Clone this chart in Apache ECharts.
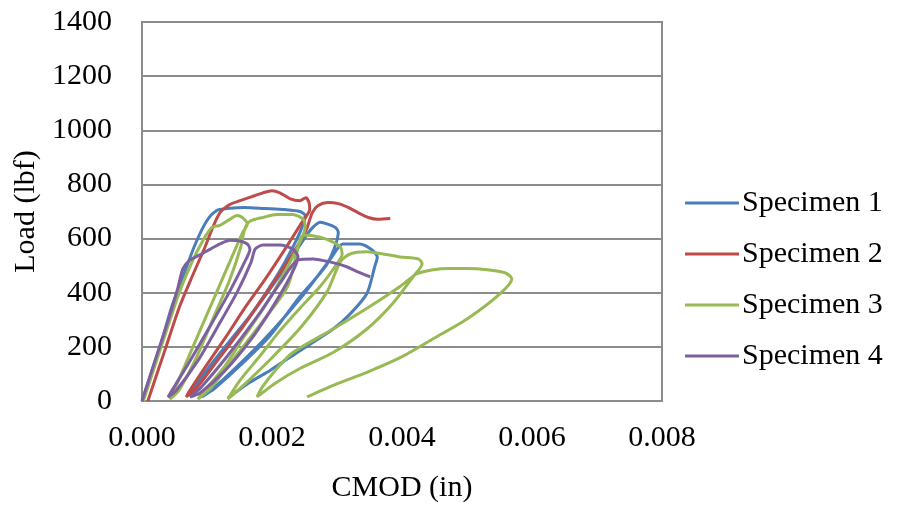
<!DOCTYPE html>
<html>
<head>
<meta charset="utf-8">
<script src="https://cdn.jsdelivr.net/npm/echarts@6/dist/echarts.min.js"></script>
<style>
  html, body { margin: 0; padding: 0; background: #ffffff; }
  #chart { width: 899px; height: 508px; }
</style>
</head>
<body>
<div id="chart"></div>
<script>
// Load vs. crack mouth opening displacement, cyclic loading of four specimens
const seriesNames = ['Specimen 1', 'Specimen 2', 'Specimen 3', 'Specimen 4'];
const xTicks = ['0.000', '0.002', '0.004', '0.006', '0.008'];
const yTicks = ['0', '200', '400', '600', '800', '1000', '1200', '1400'];

// Specimen 1
const cmod1 = [0, 0.00028, 0.00046, 0.00063, 0.00082, 0.00100, 0.00115, 0.00131, 0.00158, 0.00189, 0.00220, 0.00243, 0.00251,
  0.00243, 0.00220, 0.00197, 0.00166, 0.00135, 0.00105, 0.00082, 0.00074,
  0.00092, 0.00125, 0.00172, 0.00216, 0.00246, 0.00260, 0.00274, 0.00297, 0.00302,
  0.00285, 0.00243, 0.00197, 0.00151, 0.00112, 0.00092,
  0.00124, 0.00186, 0.00246, 0.00290, 0.00309, 0.00335, 0.00354, 0.00362,
  0.00358, 0.00346, 0.00320, 0.00294, 0.00243, 0.00197, 0.00166, 0.00132];
const load1 = [0, 204, 350, 459, 580, 667, 704, 711, 715, 711, 707, 700, 685,
  623, 514, 423, 314, 222, 131, 58, 22,
  77, 186, 332, 478, 587, 634, 660, 642, 623,
  507, 386, 241, 131, 47, 15,
  77, 222, 386, 525, 580, 580, 558, 532,
  496, 397, 321, 266, 186, 113, 69, 11];

// Specimen 2
const cmod2 = [0.00009, 0.00035, 0.00058, 0.00077, 0.00097, 0.00109, 0.00120, 0.00135, 0.00151, 0.00169, 0.00186, 0.00200, 0.00212, 0.00228, 0.00243, 0.00252, 0.00257, 0.00258,
  0.00246, 0.00220, 0.00189, 0.00158, 0.00128, 0.00097, 0.00074, 0.00068,
  0.00085, 0.00116, 0.00156, 0.00193, 0.00231, 0.00253, 0.00262, 0.00271, 0.00286, 0.00302, 0.00317, 0.00332, 0.00348, 0.00363, 0.00382];
const load2 = [0, 186, 350, 459, 569, 642, 696, 726, 740, 755, 769, 777, 769, 747, 740, 751, 733, 707,
  660, 561, 448, 343, 233, 124, 40, 15,
  51, 149, 277, 405, 540, 634, 696, 722, 733, 729, 715, 696, 678, 671, 674];

// Specimen 3
const cmod3 = [0.00002, 0.00020, 0.00040, 0.00058, 0.00077, 0.00094, 0.00108, 0.00120, 0.00135, 0.00146, 0.00154, 0.00162,
  0.00155, 0.00135, 0.00112, 0.00089, 0.00066, 0.00046, 0.00043,
  0.00057, 0.00085, 0.00111, 0.00135, 0.00152, 0.00158, 0.00166, 0.00186, 0.00208, 0.00232, 0.00248, 0.00251,
  0.00243, 0.00220, 0.00189, 0.00158, 0.00128, 0.00097, 0.00086,
  0.00107, 0.00147, 0.00186, 0.00224, 0.00243, 0.00248, 0.00274, 0.00294, 0.00305, 0.00308,
  0.00300, 0.00274, 0.00243, 0.00212, 0.00182, 0.00151, 0.00132,
  0.00153, 0.00200, 0.00246, 0.00285, 0.00305, 0.00320, 0.00346, 0.00371, 0.00397, 0.00425, 0.00431,
  0.00417, 0.00386, 0.00346, 0.00294, 0.00243, 0.00205, 0.00177,
  0.00185, 0.00205, 0.00232, 0.00294, 0.00351, 0.00397, 0.00423, 0.00448, 0.00474, 0.00500, 0.00531, 0.00558, 0.00569,
  0.00551, 0.00500, 0.00448, 0.00397, 0.00346, 0.00294, 0.00254];
const load3 = [0, 131, 277, 405, 514, 594, 642, 649, 671, 685, 678, 653,
  623, 514, 386, 259, 131, 22, 7,
  40, 168, 314, 448, 569, 634, 664, 678, 689, 689, 671, 642,
  587, 478, 350, 241, 131, 40, 7,
  51, 175, 295, 423, 594, 613, 605, 587, 569, 543,
  507, 423, 343, 259, 168, 77, 7,
  51, 160, 277, 405, 514, 543, 551, 543, 532, 525, 507,
  459, 361, 266, 179, 120, 66, 15,
  51, 113, 179, 266, 350, 423, 470, 485, 489, 489, 485, 474, 452,
  397, 303, 230, 160, 106, 58, 15];

// Specimen 4
const cmod4 = [0, 0.00020, 0.00040, 0.00055, 0.00063, 0.00074, 0.00089, 0.00105, 0.00120, 0.00135, 0.00151, 0.00162, 0.00166,
  0.00158, 0.00135, 0.00105, 0.00074, 0.00051, 0.00040,
  0.00053, 0.00086, 0.00117, 0.00147, 0.00168, 0.00174, 0.00186, 0.00212, 0.00232, 0.00240,
  0.00228, 0.00197, 0.00166, 0.00128, 0.00089, 0.00074,
  0.00091, 0.00132, 0.00178, 0.00214, 0.00240, 0.00263, 0.00289, 0.00315, 0.00331, 0.00351];
const load4 = [0, 149, 295, 416, 489, 521, 540, 561, 580, 594, 591, 580, 561,
  514, 405, 277, 149, 58, 15,
  40, 149, 277, 405, 514, 561, 576, 576, 561, 532,
  459, 332, 222, 113, 29, 15,
  51, 168, 314, 441, 521, 525, 514, 496, 478, 459];

const colors = ['#4A7EBB', '#BE4B48', '#98B954', '#7D60A0'];
const cmods = [cmod1, cmod2, cmod3, cmod4];
const loads = [load1, load2, load3, load4];

const fontFamily = '"Liberation Serif", "Times New Roman", serif';
const fontSize = 30;
const gridColor = '#8C8C8C';

const chart = echarts.init(document.getElementById('chart'), null, { renderer: 'canvas' });

chart.setOption({
  animation: false,
  backgroundColor: '#ffffff',
  color: colors,
  grid: {
    left: 142, right: 237, top: 22, bottom: 102,
    show: true, borderColor: gridColor, borderWidth: 2, backgroundColor: 'transparent'
  },
  legend: {
    orient: 'vertical',
    left: 680, top: 183,
    icon: 'rect',
    itemWidth: 54, itemHeight: 3,
    itemGap: 21,
    data: seriesNames,
    textStyle: { fontFamily, fontSize, color: '#000', lineHeight: 30, padding: [0, 0, 0, -2] }
  },
  xAxis: {
    type: 'value',
    min: 0, max: 0.008, interval: 0.002,
    name: 'CMOD (in)', nameLocation: 'middle', nameGap: 72,
    nameTextStyle: { fontFamily, fontSize, color: '#000' },
    axisLine: { show: true, lineStyle: { color: gridColor, width: 2 } },
    axisTick: { show: false },
    splitLine: { show: false },
    axisLabel: {
      fontFamily, fontSize, color: '#000', margin: 22,
      formatter: v => xTicks[Math.round(v / 0.002)]
    }
  },
  yAxis: {
    type: 'value',
    min: 0, max: 1400, interval: 200,
    name: 'Load (lbf)', nameLocation: 'middle', nameGap: 100, nameRotate: 90,
    nameTextStyle: { fontFamily, fontSize, color: '#000' },
    axisLine: { show: true, lineStyle: { color: gridColor, width: 2 } },
    axisTick: { show: false },
    splitLine: { show: true, lineStyle: { color: gridColor, width: 2 } },
    axisLabel: {
      fontFamily, fontSize, color: '#000', margin: 30,
      formatter: v => yTicks[Math.round(v / 200)]
    }
  },
  series: seriesNames.map((name, i) => ({
    name,
    type: 'line',
    data: cmods[i].map((c, j) => [c, loads[i][j]]),
    showSymbol: false,
    symbol: 'none',
    smooth: 0.25,
    lineStyle: { width: 3, color: colors[i] },
    itemStyle: { color: colors[i] }
  }))
});
</script>
</body>
</html>
